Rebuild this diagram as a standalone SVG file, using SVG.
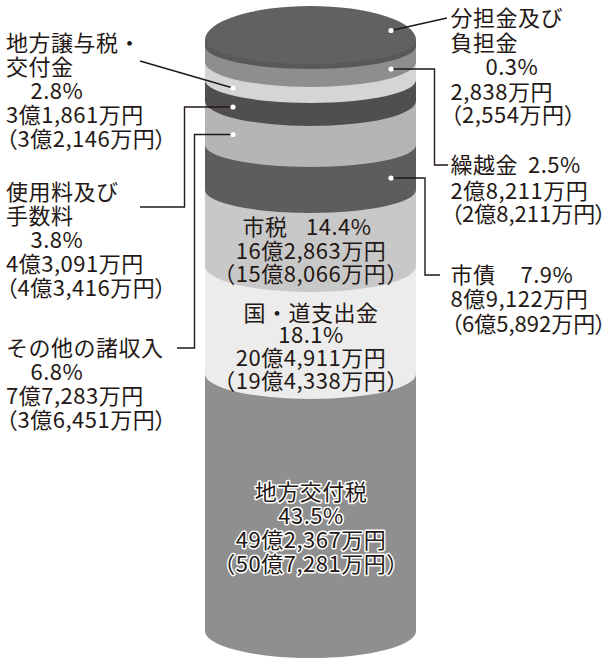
<svg xmlns="http://www.w3.org/2000/svg" width="609" height="661" viewBox="0 0 609 661">
<defs>
<style>
text{font-family:"Noto Sans CJK JP","Noto Sans CJK SC",sans-serif;font-size:22px;fill:#231815;letter-spacing:0.5px}
.c{text-anchor:middle}
.h{stroke:#fff;stroke-width:3px;paint-order:stroke;stroke-linejoin:round}
.p{font-feature-settings:"palt"}
.t{letter-spacing:0}
.ln{fill:none;stroke:#231815;stroke-width:1.4}
.dot{fill:#fff}
</style>
</defs>
<rect width="609" height="661" fill="#fff"/>
<g id="cylinder">
<path id="seg-chihokofuzei" d="M205,40 L205,631 A105.5,27 0 0 0 416,631 L416,40 Z" fill="#8f8f8f"/>
<path id="seg-kokudo" d="M205,40 L205,374 A105.5,25 0 0 0 416,374 L416,40 Z" fill="#ececec"/>
<path id="seg-shizei" d="M205,40 L205,266 A105.5,26 0 0 0 416,266 L416,40 Z" fill="#c8c8c8"/>
<path id="seg-shisai" d="M205,40 L205,190 A105.5,23 0 0 0 416,190 L416,40 Z" fill="#5d5d5d"/>
<path id="seg-sonota" d="M205,40 L205,145 A105.5,22 0 0 0 416,145 L416,40 Z" fill="#b5b5b5"/>
<path id="seg-shiyoryo" d="M205,40 L205,101 A105.5,25 0 0 0 416,101 L416,40 Z" fill="#504e4e"/>
<path id="seg-joyozei" d="M205,40 L205,80 A105.5,23 0 0 0 416,80 L416,40 Z" fill="#d5d5d5"/>
<path id="seg-kurikoshi" d="M205,40 L205,62 A105.5,25 0 0 0 416,62 L416,40 Z" fill="#8e8e8e"/>
<path id="seg-buntan" d="M205,40 L205,46 A105.5,23 0 0 0 416,46 L416,40 Z" fill="#595959"/>
<path id="top-face" d="M205,40 A105.5,34 0 0 1 416,40 A105.5,24 0 0 1 205,40 Z" fill="#616161"/>
</g>
<g id="connectors">
<polyline class="ln" points="391,30.5 447,18"/>
<polyline class="ln" points="391,69 434.5,69 434.5,165 448,165"/>
<polyline class="ln" points="391,178 425,178 425,275 440,275"/>
<polyline class="ln" points="233,88 140,61"/>
<polyline class="ln" points="233,107 184.5,107 184.5,207 140,207"/>
<polyline class="ln" points="233,134.5 194.5,134.5 194.5,348 177,348"/>
<circle class="dot" cx="391" cy="30.5" r="2.6"/>
<circle class="dot" cx="391" cy="69" r="2.6"/>
<circle class="dot" cx="391" cy="178" r="2.6"/>
<circle class="dot" cx="233" cy="88" r="2.6"/>
<circle class="dot" cx="233" cy="107" r="2.6"/>
<circle class="dot" cx="233" cy="134.5" r="2.6"/>
</g>
<g id="label-buntan">
<text x="450.5" y="26">分担金及び</text>
<text x="450.5" y="51">負担金</text>
<text x="485.5" y="75">0.3%</text>
<text x="450.5" y="100">2,838万円</text>
<text class="p" x="450.5" y="123">（2,554万円）</text>
</g>
<g id="label-kurikoshi">
<text x="450.5" y="173">繰越金　<tspan x="528">2.5%</tspan></text>
<text x="450.5" y="199">2億8,211万円</text>
<text class="p t" x="451" y="222">（2億8,211万円）</text>
</g>
<g id="label-shisai">
<text x="450.5" y="283">市債　<tspan x="520.5">7.9%</tspan></text>
<text x="450.5" y="307">8億9,122万円</text>
<text class="p t" x="451" y="332">（6億5,892万円）</text>
</g>
<g id="label-joyozei">
<text x="6" y="51">地方譲与税・</text>
<text x="6" y="75">交付金</text>
<text x="30.5" y="99">2.8%</text>
<text x="6" y="123">3億1,861万円</text>
<text class="p" x="6" y="147">（3億2,146万円）</text>
</g>
<g id="label-shiyoryo">
<text x="6" y="200">使用料及び</text>
<text x="6" y="224">手数料</text>
<text x="30.5" y="248">3.8%</text>
<text x="6" y="272">4億3,091万円</text>
<text class="p" x="6" y="296">（4億3,416万円）</text>
</g>
<g id="label-sonota">
<text x="6" y="356">その他の諸収入</text>
<text x="30.5" y="380">6.8%</text>
<text x="6" y="404">7億7,283万円</text>
<text class="p" x="6" y="428">（3億6,451万円）</text>
</g>
<g id="label-shizei">
<text x="242.5" y="235">市税　<tspan x="306">14.4%</tspan></text>
<text class="c" x="311" y="259">16億2,863万円</text>
<text class="c" x="311" y="282">（15億8,066万円）</text>
</g>
<g id="label-kokudo">
<text class="c" x="311" y="321">国・道支出金</text>
<text class="c" x="311" y="343">18.1%</text>
<text class="c" x="311" y="366">20億4,911万円</text>
<text class="c" x="311" y="389">（19億4,338万円）</text>
</g>
<g id="label-kofuzei">
<text class="c h" x="311" y="500">地方交付税</text>
<text class="c h" x="311" y="524">43.5%</text>
<text class="c h" x="311" y="548">49億2,367万円</text>
<text class="c h" x="311" y="572">（50億7,281万円）</text>
</g>
</svg>
